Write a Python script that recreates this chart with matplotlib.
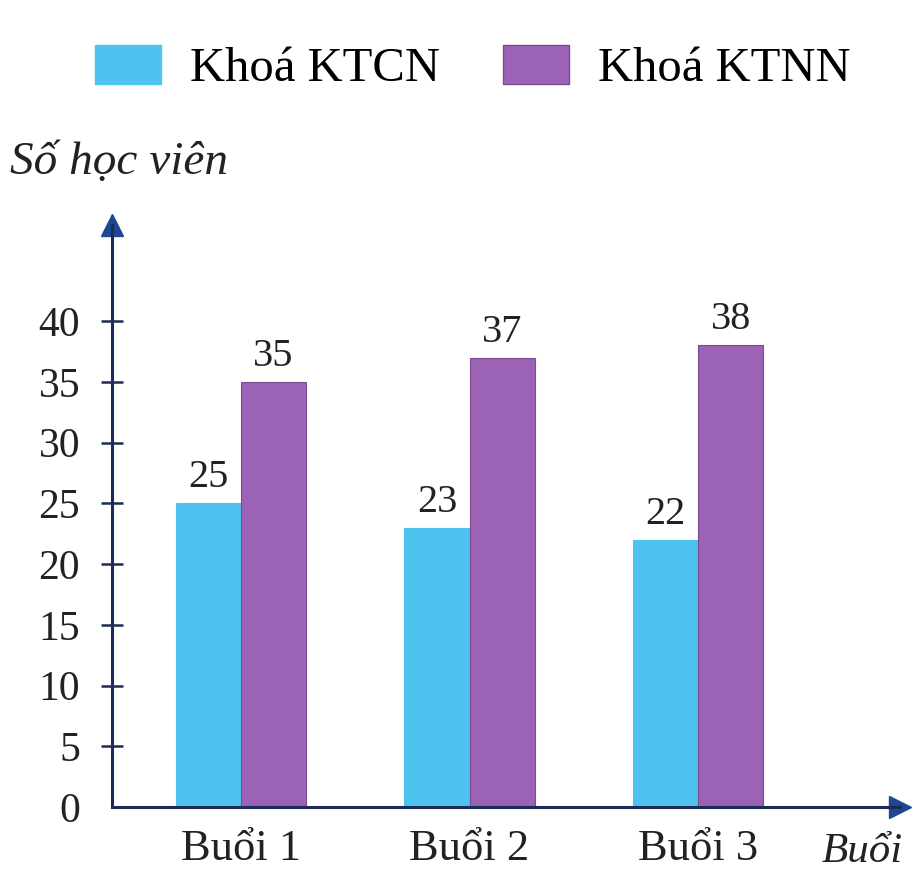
import numpy as np
import matplotlib.pyplot as plt
from matplotlib.patches import Rectangle

# data
sessions = ["Buổi 1", "Buổi 2", "Buổi 3"]
ktcn = [25, 23, 22]
ktnn = [35, 37, 38]
series_names = ["Khoá KTCN", "Khoá KTNN"]
yticks = [0, 5, 10, 15, 20, 25, 30, 35, 40]

BLUE = '#4fc3f0'
PURPLE = '#9c62b6'
AXIS = '#1b2b55'
ARROW = '#1f4690'

plt.rcParams['font.family'] = ['Liberation Serif', 'DejaVu Serif']

fig = plt.figure(figsize=(9.19, 8.71), dpi=100)
ax = fig.add_axes([0.1219, 0.0735, 0.8575, 0.668])

x = np.arange(len(sessions))
w = 0.285
ax.bar(x - w / 2, ktcn, w, color=BLUE, edgecolor=BLUE, linewidth=0.8)
ax.bar(x + w / 2, ktnn, w, color=PURPLE, edgecolor='#7a4b90', linewidth=0.8)

for xi, v in zip(x, ktcn):
    ax.annotate(str(v), (xi - w / 2, v), xytext=(0, 5), textcoords='offset points',
                ha='center', va='bottom', fontsize=29, color='#222222')
for xi, v in zip(x, ktnn):
    ax.annotate(str(v), (xi + w / 2, v), xytext=(0, 5), textcoords='offset points',
                ha='center', va='bottom', fontsize=29, color='#222222')

ax.set_xlim(-0.565, 2.884)
ax.set_ylim(0, 47.9)

for s in ['top', 'right']:
    ax.spines[s].set_visible(False)
for s in ['left', 'bottom']:
    ax.spines[s].set_color(AXIS)
    ax.spines[s].set_linewidth(2.2)

ax.set_yticks(yticks)
ax.set_yticklabels([str(t) for t in yticks])
ax.tick_params(axis='y', direction='inout', length=16, width=1.8, color=AXIS,
               labelsize=30, pad=15, labelcolor='#222222')
ax.yaxis.get_major_ticks()[0].tick1line.set_visible(False)
ax.set_xticks(x)
ax.set_xticklabels(sessions)
ax.tick_params(axis='x', length=0, labelsize=32, pad=16, labelcolor='#222222')

# axis arrows
ax.plot(1, 0, '>', transform=ax.transAxes, clip_on=False, color=ARROW, markersize=16)
ax.plot(0, 1, '^', transform=ax.transAxes, clip_on=False, color=ARROW, markersize=16)

fig.text(10 / 919, 1 - 163 / 871, "Số học viên", style='italic', fontsize=34,
         va='center', ha='left', color='#222222')
fig.text(822 / 919, 1 - 852 / 871, "Buổi", style='italic', fontsize=31,
         va='center', ha='left', color='#222222')

handles = [Rectangle((0, 0), 1, 1, facecolor=BLUE, edgecolor=BLUE),
           Rectangle((0, 0), 1, 1, facecolor=PURPLE, edgecolor='#7a4b90')]
fig.legend(handles, series_names, loc='upper left', bbox_to_anchor=(95 / 919, 1 - 45 / 871),
           ncol=2, frameon=False, fontsize=35, handlelength=1.35, handleheight=0.85,
           handletextpad=0.6, columnspacing=1.3, borderaxespad=0, borderpad=0)

fig.savefig('out.png', dpi=100)
